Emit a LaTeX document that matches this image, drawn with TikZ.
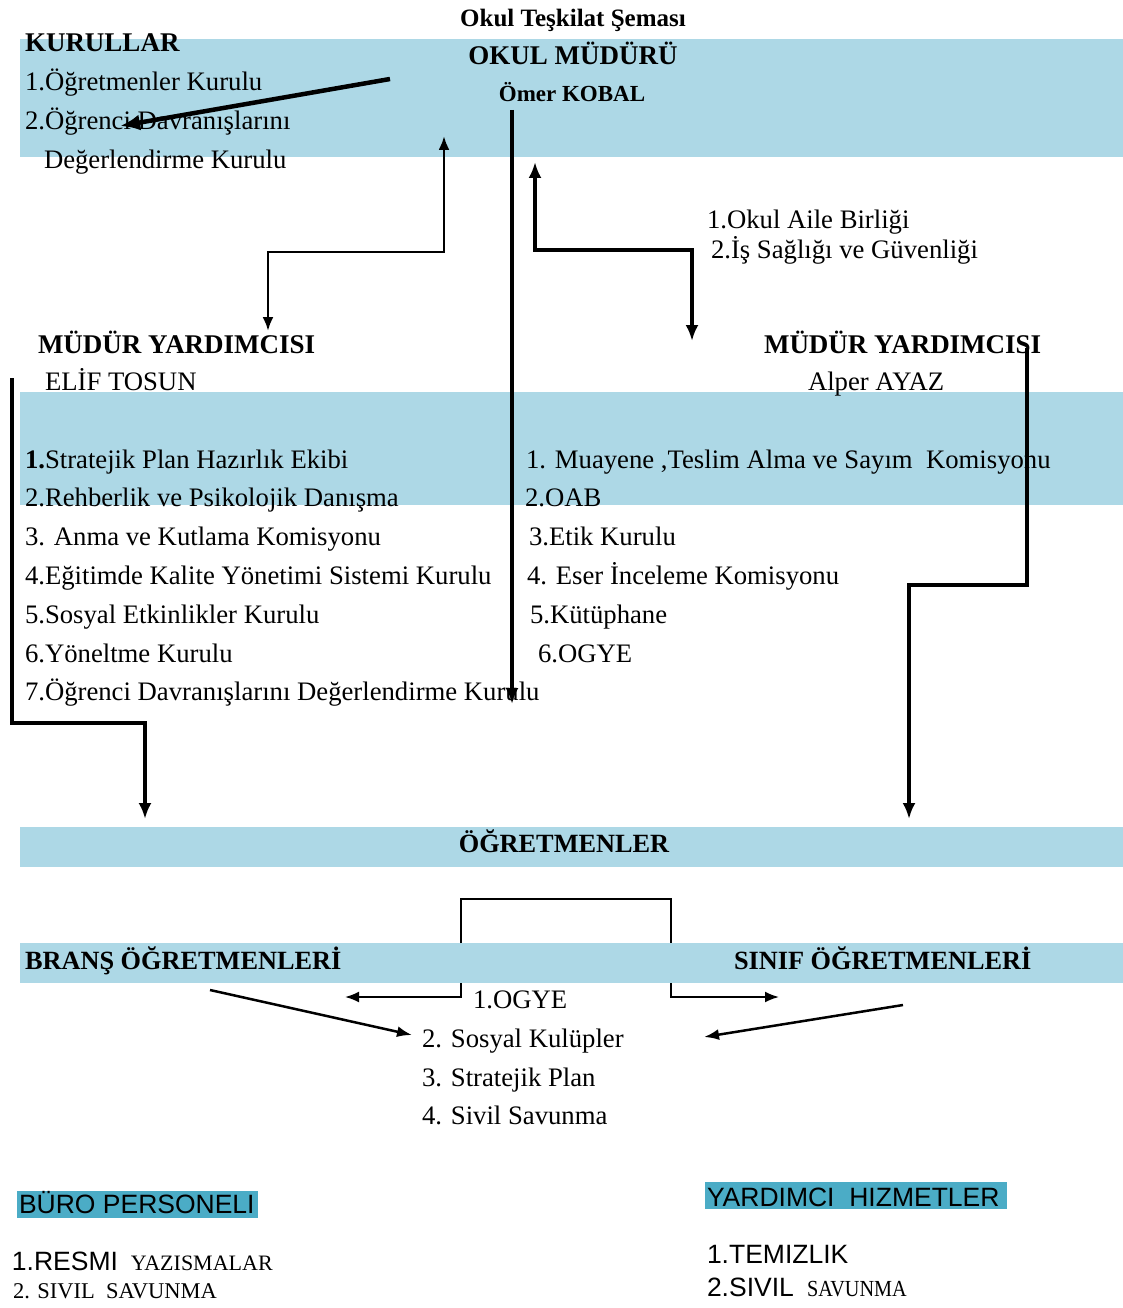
\documentclass[tikz,border=0pt]{standalone}
\usepackage{fontspec}
\usepackage{graphicx}
\setmainfont{Liberation Serif}
\newfontfamily\sansf{Liberation Sans}
\usetikzlibrary{arrows.meta}
\definecolor{bandblue}{RGB}{173,216,230}
\definecolor{hilite}{RGB}{75,172,198}
\tikzset{
  band/.style={fill=bandblue, draw=none},
  hl/.style={fill=hilite, draw=none},
  lbl/.style={anchor=base west, inner sep=0pt, outer sep=0pt, font=\fontsize{26.7}{30}\selectfont},
  hd/.style={lbl, font=\fontsize{27}{30}\selectfont\bfseries},
  hds/.style={lbl, font=\fontsize{26.3}{30}\selectfont\bfseries},
  ctr/.style={anchor=base},
  sans/.style={lbl, font=\fontsize{26.5}{30}\selectfont\sansf},
  big/.style={line width=4pt, -{Latex[length=16pt,width=13pt]}},
  bigboth/.style={line width=4pt, {Latex[length=16pt,width=13pt]}-{Latex[length=16pt,width=13pt]}},
  medboth/.style={line width=2.5pt, {Latex[length=14pt,width=11pt]}-{Latex[length=14pt,width=11pt]}},
  med/.style={line width=2.5pt, -{Latex[length=15pt,width=11pt]}},
  thin/.style={line width=2pt},
  thinarr/.style={line width=2pt, -{Latex[length=14pt,width=11pt]}}
}
\begin{document}
\begin{tikzpicture}[x=1pt,y=-1pt]
\useasboundingbox (0,0) rectangle (1123,1308);
% bands
\path[band] (20,39) rectangle (1123,157);
\path[band] (20,392) rectangle (1123,505);
\path[band] (20,827) rectangle (1123,867);
\path[band] (20,943) rectangle (1123,983);
\path[hl] (17,1191) rectangle (258,1218);
\path[hl] (705,1182) rectangle (1007,1209);

% top texts
\node[lbl, ctr, font=\fontsize{25}{30}\selectfont\bfseries] (title) at (573,27) {Okul Teşkilat Şeması};
\node[hd, ctr] (mudur) at (573,65) {OKUL MÜDÜRÜ};
\node[lbl, ctr, font=\fontsize{23}{28}\selectfont\bfseries] (omer) at (572,102) {Ömer KOBAL};
\node[hd] (kurullar) at (25,52) {KURULLAR};
\node[lbl] (k1) at (25,91) {1.Öğretmenler Kurulu};
\node[lbl] (k2) at (25,130) {2.Öğrenci Davranışlarını};
\node[lbl] (k3) at (44,168) {Değerlendirme Kurulu};
\node[lbl] (oab1) at (707,228) {1.Okul Aile Birliği};
\node[lbl] (oab2) at (711,258) {2.İş Sağlığı ve Güvenliği};

% assistants
\node[hd] (my1) at (38,353) {MÜDÜR YARDIMCISI};
\node[lbl] (elif) at (45,390) {ELİF TOSUN};
\node[hd] (my2) at (764,353) {MÜDÜR YARDIMCISI};
\node[lbl] (alper) at (808,390) {Alper AYAZ};

% left list
\node[lbl] (l1) at (25,468) {\textbf{1.}Stratejik Plan Hazırlık Ekibi};
\node[lbl] (l2) at (25,506) {2.Rehberlik ve Psikolojik Danışma};
\node[lbl] (l3) at (25,545) {3. Anma ve Kutlama Komisyonu};
\node[lbl] (l4) at (25,584) {4.Eğitimde Kalite Yönetimi Sistemi Kurulu};
\node[lbl] (l5) at (25,623) {5.Sosyal Etkinlikler Kurulu};
\node[lbl] (l6) at (25,662) {6.Yöneltme Kurulu};
\node[lbl] (l7) at (25,700) {7.Öğrenci Davranışlarını Değerlendirme Kurulu};

% right list
\node[lbl] (r1) at (526,468) {1. Muayene ,Teslim Alma ve Sayım\ \ Komisyonu};
\node[lbl] (r2) at (525,506) {2.OAB};
\node[lbl] (r3) at (529,545) {3.Etik Kurulu};
\node[lbl] (r4) at (527,584) {4. Eser İnceleme Komisyonu};
\node[lbl] (r5) at (530,623) {5.Kütüphane};
\node[lbl] (r6) at (538,662) {6.OGYE};

% teachers
\node[hds, ctr] (ogr) at (564,852) {ÖĞRETMENLER};
\node[hds] (brans) at (25,969) {BRANŞ ÖĞRETMENLERİ};
\node[hds] (sinif) at (734,969) {SINIF ÖĞRETMENLERİ};
\node[lbl] (c1) at (473,1008) {1.OGYE};
\node[lbl] (c2) at (422,1047) {2. Sosyal Kulüpler};
\node[lbl] (c3) at (422,1086) {3. Stratejik Plan};
\node[lbl] (c4) at (422,1124) {4. Sivil Savunma};

% bottom
\node[sans] (buro) at (19,1213) {BÜRO PERSONELI};
\node[sans] (b1) at (12,1270) {1.RESMI {\rmfamily\fontsize{22}{26}\selectfont\ YAZISMALAR}};
\node[lbl, font=\fontsize{22.5}{26}\selectfont] (b2) at (13,1298) {2. SIVIL\ \ SAVUNMA};
\node[sans] (yard) at (707,1206) {YARDIMCI\ \ HIZMETLER};
\node[sans] (y1) at (707,1263) {1.TEMIZLIK};
\node[sans] (y2) at (707,1296) {2.SIVIL {\rmfamily\fontsize{23}{26}\selectfont\ \scalebox{0.88}[1]{SAVUNMA}}};

% connector end points
\coordinate (dA) at (390,79);
\coordinate (dB) at (120,126);
\coordinate (eA1) at (444,136);
\coordinate (eA2) at (268,331);
\coordinate (vS) at (512,110);
\coordinate (vE) at (512,704);
\coordinate (eB1) at (535,162);
\coordinate (eB2) at (692,341);
\coordinate (lS) at (12,378);
\coordinate (lE) at (145,819);
\coordinate (rS) at (1027,348);
\coordinate (rE) at (909,819);
\coordinate (bkL) at (461,943);
\coordinate (bkR) at (671,943);
\coordinate (bkL2) at (461,983);
\coordinate (bkR2) at (671,983);
\coordinate (aL) at (345,997);
\coordinate (aR) at (779,997);
\coordinate (gL1) at (210,990);
\coordinate (gL2) at (412,1035);
\coordinate (gR1) at (903,1005);
\coordinate (gR2) at (704,1037);

% connectors
\draw[line width=4.5pt, -{Latex[length=20pt,width=16pt]}] (dA) -- (dB);
\draw[medboth] (eA1) -- ++(0,116) -| (eA2);
\draw[big] (vS) -- (vE);
\draw[bigboth] (eB1) -- ++(0,88) -| (eB2);
\draw[big] (lS) -- ++(0,345) -| (lE);
\draw[big] (rS) -- ++(0,237) -| (rE);
\draw[thin] (bkL) -- ++(0,-44) -| (bkR);
\draw[thinarr] (bkL2) |- (aL);
\draw[thinarr] (bkR2) |- (aR);
\draw[med] (gL1) -- (gL2);
\draw[med] (gR1) -- (gR2);
\end{tikzpicture}
\end{document}
